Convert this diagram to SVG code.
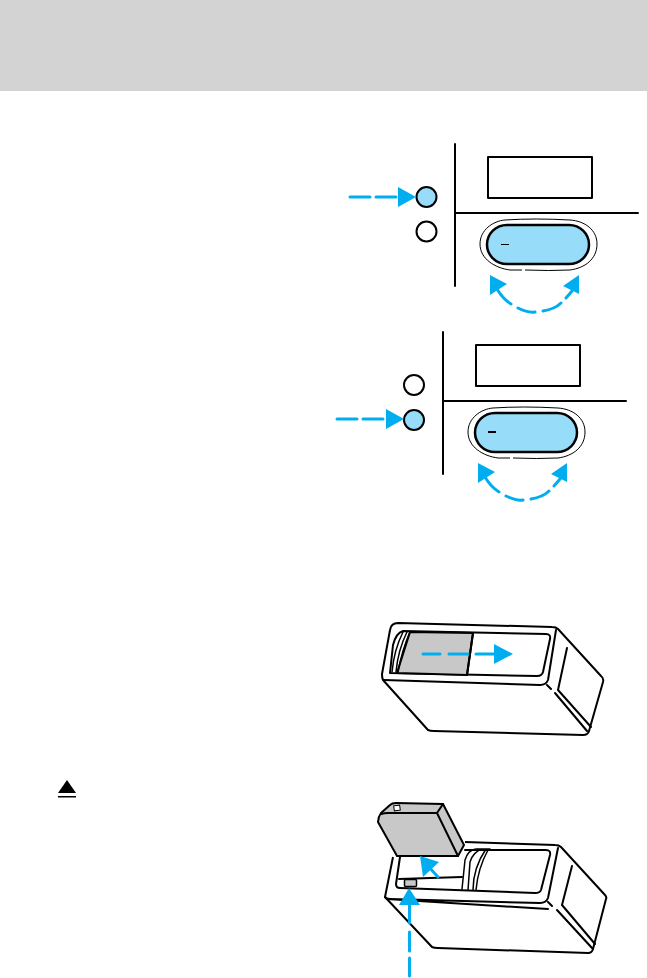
<svg xmlns="http://www.w3.org/2000/svg" width="647" height="978" viewBox="0 0 647 978">
<defs><style>
.k{fill:none;stroke:#000;stroke-width:2;stroke-linejoin:round;stroke-linecap:round}
.w{fill:#fff;stroke:#000;stroke-width:2;stroke-linejoin:round}
.t{fill:none;stroke:#000;stroke-width:1}
.lb{fill:#97dcf8;stroke:#000;stroke-width:2}
.g{fill:#c8c8c8;stroke:#000;stroke-width:2;stroke-linejoin:round}
.a{fill:none;stroke:#00aeef;stroke-width:3;stroke-linecap:round}
.h{fill:#00aeef}
</style>
<g id="panel">
<path class="k" d="M455 144V286M456 213H638"/>
<rect class="w" x="488" y="157" width="104" height="41"/>
<path class="t" d="M505 220Q535 218 570 220C585 221 597 230 597 244C597 259 585 268 570 270Q550 271 525 270M522 270H510C495 268 480 259 480 244C480 230 493 221 505 220"/>
<rect class="lb" x="487" y="225" width="102" height="39" rx="20" style="stroke-width:2.500"/>
<path class="a" d="M497 289Q503 299 511 304M518 308Q528 313 535 312M543 311Q555 309 561 303M566 298L572 291"/>
<path class="h" d="M490 275L490 295L507 284ZM579 275L563 286L579 294Z"/>
</g></defs>
<rect id="header" x="0" y="0" width="647" height="91" fill="#d3d3d3"/>
<g id="control-1">
<use href="#panel"/>
<path d="M501 244.500H509" stroke="#000" stroke-width="1"/>
<circle class="lb" cx="426.500" cy="197" r="10"/>
<circle class="w" cx="426.500" cy="231.500" r="10"/>
</g>
<g id="control-2">
<use href="#panel" x="-12" y="188"/>
<path d="M488 432H496" stroke="#000" stroke-width="2"/>
<circle class="w" cx="414" cy="385" r="10"/>
<circle class="lb" cx="414" cy="420" r="10"/>
</g>
<g id="cartridge-closed">
<path class="w" d="M383 680L428 730Q430 731 434 731L583 735Q588 735 589 731L603 682Q604 678 601 676L558 629Q556 627 552 627L398 623Q391 623 390 630L382 674Q382 678 383 680Z"/>
<path class="k" d="M384 680L540 685Q546 685 548 680L556 630M547 685L551 689M555 693L587 731M558 690L591 727M567 648L558 690"/>
<path class="k" d="M403 631L546 634Q551 634 550 639L543 672Q542 676 537 676L390 673L393 645Q396 633 403 631Z"/>
<path class="g" d="M410 632L473 633L467 675L397 673Z"/>
<path class="k" d="M473 633L467 675"/>
<path class="k" style="stroke-width:1.500" d="M403 632Q394 650 392 672M407 632Q398 650 396 672M410 632Q402 650 398 672"/>
</g>
<g id="cartridge-open">
<path class="w" d="M393 857L385 897L432 947Q434 948 438 948L588 953Q592 953 593 949L606 899Q607 897 605 895L561 847Q559 845 555 845L465 842"/>
<path class="k" d="M385 897Q386 899 390 899L540 903Q546 903 548 898L558 848M387 899L548 909M548 902L552 906M557 910L592 948M562 905L595 944M572 866L562 905"/>
<path class="k" d="M465 850L546 850Q551 850 550 855L541 890Q540 893 535 893L400 888Q396 888 396 884L400 857"/>
<path class="k" d="M399 879L462 877"/>
<path class="k" style="stroke-width:1.500" d="M462 889L465 860Q468 850 476 849L490 849M468 890L470 862Q473 852 482 849M473 890Q473 868 486 849M476 890Q478 868 488 850"/>
<rect x="404.500" y="879.500" width="12" height="7" rx="1" fill="#c8c8c8" stroke="#000" stroke-width="1.500"/>
<path class="g" d="M378 822Q378 817 381 813L390 805Q392 803 396 803L443 804L464 845L458 856L397 856Z"/>
<path class="k" d="M381 814Q384 813 388 813L437 813L458 856M437 813L443 804"/>
<rect x="394" y="805.500" width="6" height="5" fill="#fff" stroke="#000" stroke-width="1" transform="rotate(-8 397 808)"/>
</g>
<g id="eject-symbol">
<path d="M67 780L76 793H58Z" fill="#000"/>
<rect x="58" y="796" width="18" height="1.500" fill="#000"/>
</g>
<g id="connectors">
<path class="a" stroke-dasharray="20 6" d="M350 197H398"/>
<path class="h" d="M398 187L416 197L398 207Z"/>
<path class="a" stroke-dasharray="20 6" d="M337 419H386"/>
<path class="h" d="M386 409L404 419L386 429Z"/>
<path class="a" d="M423 654H440M449 654H468M476 654H496"/>
<path class="h" d="M494 644L513 654L494 664Z"/>
<path class="a" d="M438 877L428 866"/>
<path class="h" d="M420 856L423 877L439 862Z"/>
<path class="a" d="M409.500 903V923M409.500 932V951M409.500 958V976"/>
<path class="h" d="M409 888L420 905H399Z"/>
</g>
</svg>
